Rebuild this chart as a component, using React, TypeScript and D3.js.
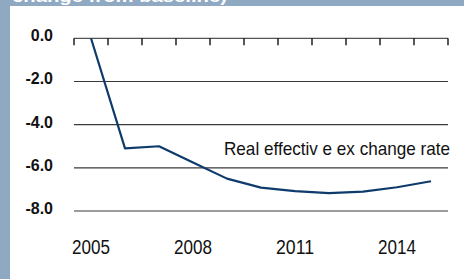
import React from "react";
import * as d3 from "d3";

const years = [2005, 2006, 2007, 2008, 2009, 2010, 2011, 2012, 2013, 2014, 2015];
const reer = [0.0, -5.1, -5.0, -5.75, -6.5, -6.92, -7.08, -7.17, -7.1, -6.9, -6.62];
const yTicks = [0, -2, -4, -6, -8];
const xLabelYears = [2005, 2008, 2011, 2014];
const seriesLabel = "Real effectiv e ex change rate";
const headerText = "change from baseline)";

export default function App() {
  const W = 464;
  const H = 279;
  const x = d3.scaleBand<number>().domain(years).range([74, 448]).padding(0);
  const y = d3.scaleLinear().domain([-8, 0]).range([211, 38.3]);
  const bw = x.bandwidth();
  const cx = (yr: number) => (x(yr) as number) + bw / 2;
  const line = d3
    .line<number>()
    .x((_, i) => cx(years[i]))
    .y((d) => y(d));
  const tickXs = years.map((yr) => x(yr) as number).concat([448]);

  return (
    <svg
      width={W}
      height={H}
      style={{ position: "absolute", left: 0, top: 0 }}
      fontFamily="'Liberation Sans', Arial, sans-serif"
    >
      <rect x={0} y={0} width={W} height={H} fill="#8FA9C3" />
      <rect x={10} y={6} width={W - 10} height={H - 6} fill="#ffffff" />
      <text
        x={12}
        y={2}
        fill="#ffffff"
        fontWeight="bold"
        fontSize={17}
        textLength={215}
        lengthAdjust="spacingAndGlyphs"
      >
        {headerText}
      </text>
      {yTicks
        .filter((t) => t !== 0)
        .map((t) => (
          <line key={t} x1={74} x2={448} y1={y(t)} y2={y(t)} stroke="#3a3a3a" strokeWidth={1.2} />
        ))}
      <line x1={74} x2={448} y1={y(0)} y2={y(0)} stroke="#555" strokeWidth={1.2} />
      {tickXs.map((tx, i) => (
        <line key={i} x1={tx} x2={tx} y1={y(0)} y2={y(0) + 7} stroke="#111" strokeWidth={1.4} />
      ))}
      {yTicks.map((t) => (
        <text
          key={t}
          x={53}
          y={y(t) + 3}
          textAnchor="end"
          fontSize={16}
          fontWeight="bold"
          fill="#111"
        >
          {t.toFixed(1)}
        </text>
      ))}
      {xLabelYears.map((yr) => (
        <text
          key={yr}
          x={cx(yr)}
          y={254}
          textAnchor="middle"
          fontSize={19.5}
          fill="#111"
          textLength={38}
          lengthAdjust="spacingAndGlyphs"
        >
          {yr}
        </text>
      ))}
      <path d={line(reer) || ""} fill="none" stroke="#0E3B6B" strokeWidth={2.2} strokeLinejoin="round" />
      <text
        x={224}
        y={155}
        fontSize={18.5}
        fill="#111"
        textLength={226}
        lengthAdjust="spacingAndGlyphs"
      >
        {seriesLabel}
      </text>
    </svg>
  );
}
